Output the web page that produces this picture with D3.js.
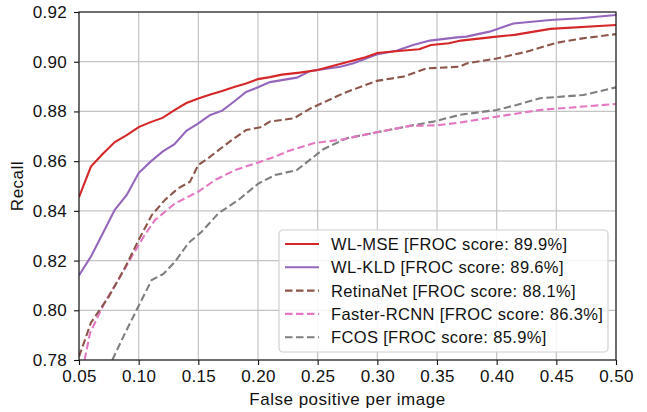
<!DOCTYPE html>
<html>
<head>
<meta charset="utf-8">
<script src="https://cdn.jsdelivr.net/npm/d3@7"></script>
<style>
  body { margin: 0; background: #fff; }
  svg text { font-family: "Liberation Sans", Arial, sans-serif; fill: #111; }
</style>
</head>
<body>
<svg id="chart" width="647" height="412"></svg>
<script>
// tick values
var xTicks = [0.05, 0.10, 0.15, 0.20, 0.25, 0.30, 0.35, 0.40, 0.45, 0.50];
var yTicks = [0.78, 0.80, 0.82, 0.84, 0.86, 0.88, 0.90, 0.92];

var seriesNames = ["WL-MSE", "WL-KLD", "RetinaNet", "Faster-RCNN", "FCOS"];
var frocScores = [89.9, 89.6, 88.1, 86.3, 85.9];

// [false positives per image, recall]
var wlMse = [[0.05,0.8455],[0.06,0.8578],[0.07,0.8630],[0.08,0.8677],[0.09,0.8705],[0.10,0.8737],
  [0.11,0.8757],[0.12,0.8774],[0.13,0.8805],[0.14,0.8834],[0.15,0.8852],[0.16,0.8868],[0.17,0.8882],
  [0.18,0.8898],[0.19,0.8912],[0.20,0.8930],[0.21,0.8938],[0.22,0.8948],[0.235,0.8956],[0.25,0.8967],
  [0.26,0.8980],[0.275,0.8999],[0.29,0.9018],[0.30,0.9035],[0.32,0.9044],[0.335,0.9050],[0.345,0.9067],
  [0.36,0.9074],[0.37,0.9085],[0.40,0.9101],[0.415,0.9108],[0.445,0.9132],[0.50,0.9148]];
var wlKld = [[0.05,0.8140],[0.06,0.8216],[0.07,0.8310],[0.08,0.8404],[0.09,0.8464],[0.10,0.8552],
  [0.11,0.8598],[0.12,0.8638],[0.13,0.8668],[0.14,0.8722],[0.15,0.8752],[0.16,0.8786],[0.17,0.8803],
  [0.18,0.8840],[0.19,0.8878],[0.20,0.8897],[0.21,0.8918],[0.2325,0.8936],[0.244,0.8963],[0.269,0.8980],
  [0.28,0.8994],[0.30,0.9030],[0.316,0.9044],[0.33,0.9067],[0.344,0.9085],[0.3667,0.9098],[0.3747,0.9101],
  [0.394,0.9121],[0.414,0.9154],[0.445,0.9168],[0.47,0.9175],[0.50,0.9188]];
var retinaNet = [[0.05,0.7813],[0.06,0.7950],[0.075,0.8055],[0.089,0.8176],[0.10,0.8283],[0.111,0.8383],
  [0.122,0.8444],[0.133,0.8490],[0.143,0.8517],[0.15,0.8585],[0.158,0.8611],[0.164,0.8633],[0.178,0.8685],
  [0.19,0.8725],[0.202,0.8736],[0.21,0.8759],[0.23,0.8772],[0.244,0.8812],[0.2715,0.8873],[0.2995,0.8923],
  [0.3218,0.8940],[0.3414,0.8973],[0.369,0.8980],[0.3747,0.8993],[0.40,0.9013],[0.425,0.9040],
  [0.45,0.9076],[0.472,0.9094],[0.50,0.9111]];
var fasterRcnn = [[0.0547,0.7800],[0.0592,0.7908],[0.0718,0.8034],[0.083,0.8122],[0.0942,0.8216],
  [0.105,0.8303],[0.1137,0.8363],[0.1305,0.8430],[0.15,0.8477],[0.164,0.8524],[0.1808,0.8564],
  [0.2003,0.8595],[0.2143,0.8618],[0.224,0.8638],[0.2464,0.8672],[0.2715,0.8688],[0.2995,0.8716],
  [0.3274,0.8742],[0.3497,0.8744],[0.369,0.8755],[0.40,0.8779],[0.4363,0.8806],[0.50,0.8830]];
var fcos = [[0.0779,0.7800],[0.0886,0.7908],[0.0997,0.8015],[0.1109,0.8122],[0.1207,0.8146],
  [0.1305,0.8196],[0.1416,0.8270],[0.1528,0.8316],[0.1668,0.8390],[0.1836,0.8444],[0.2003,0.8510],
  [0.2143,0.8544],[0.2325,0.8564],[0.2548,0.8648],[0.2743,0.8692],[0.2995,0.8716],[0.3274,0.8742],
  [0.347,0.8759],[0.369,0.8786],[0.40,0.8806],[0.4168,0.8826],[0.4363,0.8853],[0.4726,0.8866],[0.50,0.8897]];

var seriesData = [wlMse, wlKld, retinaNet, fasterRcnn, fcos];
var colors = ["#d62728", "#9467bd", "#8c564b", "#e377c2", "#7f7f7f"];
var dashed = [false, false, true, true, true];

var svg = d3.select("#chart");
var margin = {top: 12, right: 31, bottom: 52, left: 79};
var width = +svg.attr("width") - margin.left - margin.right;
var height = +svg.attr("height") - margin.top - margin.bottom;

var x = d3.scaleLinear().domain([0.05, 0.50]).range([0, width]);
var y = d3.scaleLinear().domain([0.78, 0.92]).range([height, 0]);

var g = svg.append("g").attr("transform", "translate(" + margin.left + "," + margin.top + ")");

// grid
g.selectAll(".vgrid").data(xTicks).enter().append("line")
  .attr("x1", function(d) { return x(d); }).attr("x2", function(d) { return x(d); })
  .attr("y1", 0).attr("y2", height)
  .style("stroke", "#c4c4c4").style("stroke-width", 1.2);
g.selectAll(".hgrid").data(yTicks).enter().append("line")
  .attr("y1", function(d) { return y(d); }).attr("y2", function(d) { return y(d); })
  .attr("x1", 0).attr("x2", width)
  .style("stroke", "#c4c4c4").style("stroke-width", 1.2);

g.append("clipPath").attr("id", "clip").append("rect")
  .attr("width", width).attr("height", height);

var line = d3.line()
  .x(function(d) { return x(d[0]); })
  .y(function(d) { return y(d[1]); });

// draw back to front so WL-MSE sits on top
d3.range(seriesData.length).reverse().forEach(function(i) {
  g.append("path")
    .datum(seriesData[i])
    .attr("clip-path", "url(#clip)")
    .attr("d", line)
    .style("fill", "none")
    .style("stroke", colors[i])
    .style("stroke-width", 2.1)
    .style("stroke-dasharray", dashed[i] ? "7.5,3.5" : null);
});

// axes
var xAxis = d3.axisBottom(x).tickValues(xTicks).tickFormat(d3.format(".2f")).tickSize(5).tickPadding(5);
var yAxis = d3.axisLeft(y).tickValues(yTicks).tickFormat(d3.format(".2f")).tickSize(5).tickPadding(7);

var gX = g.append("g").attr("transform", "translate(0," + height + ")").call(xAxis);
var gY = g.append("g").call(yAxis);
[gX, gY].forEach(function(a) {
  a.select(".domain").remove();
  a.selectAll("line").style("stroke", "#111").style("stroke-width", 1.1);
  a.selectAll("text").style("font-size", "17px").style("letter-spacing", "0.3px")
    .style("font-family", "'Liberation Sans', Arial, sans-serif").style("fill", "#111");
});

// frame
g.append("rect").attr("width", width).attr("height", height)
  .style("fill", "none").style("stroke", "#111").style("stroke-width", 1.1);

svg.append("text")
  .attr("x", margin.left + width / 2).attr("y", 405)
  .attr("text-anchor", "middle").style("font-size", "17px").style("letter-spacing", "0.5px")
  .text("False positive per image");
svg.append("text")
  .attr("transform", "translate(23," + (margin.top + height / 2) + ") rotate(-90)")
  .attr("text-anchor", "middle").style("font-size", "17px").style("letter-spacing", "0.5px")
  .text("Recall");

// legend
var legend = svg.append("g").attr("transform", "translate(279,230)");
legend.append("rect")
  .attr("width", 329).attr("height", 122).attr("rx", 4)
  .style("fill", "#fff").style("fill-opacity", 0.85)
  .style("stroke", "#d0d0d0").style("stroke-width", 1.2);
var rows = legend.selectAll(".row").data(seriesNames).enter().append("g")
  .attr("transform", function(d, i) { return "translate(0," + (14 + i * 23.3) + ")"; });
rows.append("line")
  .attr("x1", 6).attr("x2", 40)
  .style("stroke", function(d, i) { return colors[i]; })
  .style("stroke-width", 2.1)
  .style("stroke-dasharray", function(d, i) { return dashed[i] ? "7.5,3.5" : null; });
rows.append("text")
  .attr("x", 52).attr("y", 6)
  .style("font-size", "16.5px").style("letter-spacing", "0.35px")
  .text(function(d, i) { return d + " [FROC score: " + frocScores[i].toFixed(1) + "%]"; });
</script>
</body>
</html>
